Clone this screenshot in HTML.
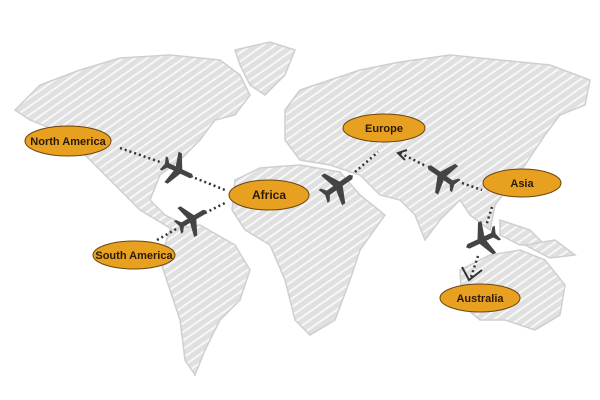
<!DOCTYPE html>
<html><head><style>
html,body{margin:0;padding:0;background:#fff;width:600px;height:400px;overflow:hidden}
svg text{font-family:"Liberation Sans",sans-serif;font-weight:bold;font-size:11px;fill:#2a1a0a}
</style></head><body>
<svg width="600" height="400" viewBox="0 0 600 400">
<defs>
<pattern id="h" width="7" height="7" patternUnits="userSpaceOnUse" patternTransform="rotate(-35)">
<rect width="7" height="7" fill="#e0e0e0"/><line x1="0" y1="6" x2="7" y2="6" stroke="#f7f7f7" stroke-width="2"/>
</pattern>
<g id="p"><path d="M0,-14 L2,-12 L2,-3 L14,3 L14,6 L2,3 L2,9 L6,12 L6,14 L0,12 L-6,14 L-6,12 L-2,9 L-2,3 L-14,6 L-14,3 L-2,-3 L-2,-12 Z" fill="#444"/></g>
</defs>
<g fill="url(#h)" stroke="#cfcfcf" stroke-width="1.5">
<path d="M15,110 L40,85 L80,70 L120,58 L170,55 L220,60 L240,75 L250,95 L235,115 L215,120 L200,140 L180,160 L160,175 L150,200 L165,215 L185,225 L200,240 L185,238 L165,225 L140,210 L120,190 L100,170 L80,150 L55,130 L30,120 Z"/>
<path d="M235,50 L270,42 L295,50 L285,75 L265,95 L250,85 L240,65 Z"/>
<path d="M170,230 L200,225 L235,245 L250,270 L240,300 L220,320 L205,350 L195,375 L185,360 L180,320 L170,290 L160,260 Z"/>
<path d="M285,110 L300,90 L330,80 L360,70 L400,62 L450,55 L500,60 L550,65 L590,80 L585,105 L560,115 L545,135 L525,165 L510,185 L495,205 L490,230 L470,215 L460,200 L440,220 L425,240 L415,215 L400,200 L380,195 L360,175 L330,165 L300,160 L285,140 Z"/>
<path d="M235,180 L260,168 L300,165 L340,172 L360,195 L385,215 L360,250 L350,280 L335,320 L310,335 L295,320 L285,280 L270,245 L245,230 L232,210 Z"/>
<path d="M500,220 L530,230 L545,245 L520,245 L500,235 Z"/>
<path d="M525,245 L555,240 L575,255 L550,258 Z"/>
<path d="M460,270 L490,255 L520,250 L545,260 L565,285 L560,315 L535,330 L505,320 L480,320 L462,305 Z"/>
</g>
<g stroke="#333" stroke-width="2.5" stroke-dasharray="2,3" fill="none">
<line x1="120" y1="148" x2="160" y2="162"/>
<line x1="195" y1="178" x2="225" y2="190"/>
<line x1="157" y1="240" x2="178" y2="228"/>
<line x1="205" y1="213" x2="225" y2="203"/>
<line x1="355" y1="172" x2="378" y2="152"/>
<line x1="400" y1="153" x2="426" y2="166"/>
<line x1="462" y1="183" x2="482" y2="190"/>
<line x1="492" y1="207" x2="486" y2="226"/>
<line x1="478" y1="256" x2="470" y2="280"/>
</g>
<path d="M407,150 L398,153 L405,160" stroke="#333" stroke-width="2" fill="none"/>
<path d="M462,267 L469,280 L482,270" stroke="#333" stroke-width="2" fill="none"/>
<use href="#p" transform="translate(178,170) rotate(115) scale(1.2)"/>
<use href="#p" transform="translate(192,219) rotate(60) scale(1.2)"/>
<use href="#p" transform="translate(338,186) rotate(55) scale(1.3)"/>
<use href="#p" transform="translate(442,176) rotate(-55) scale(1.25)"/>
<use href="#p" transform="translate(482,240) rotate(-115) scale(1.25)"/>
<g fill="#e8a020" stroke="#6a4510" stroke-width="1">
<ellipse cx="68" cy="141" rx="43" ry="15"/>
<ellipse cx="134" cy="255" rx="41" ry="14"/>
<ellipse cx="269" cy="195" rx="40" ry="15"/>
<ellipse cx="384" cy="128" rx="41" ry="14"/>
<ellipse cx="522" cy="183" rx="39" ry="14"/>
<ellipse cx="480" cy="298" rx="40" ry="14"/>
</g>
<g text-anchor="middle">
<text x="68" y="145">North America</text>
<text x="134" y="259">South America</text>
<text x="269" y="199" style="font-size:12px">Africa</text>
<text x="384" y="132">Europe</text>
<text x="522" y="187">Asia</text>
<text x="480" y="302">Australia</text>
</g>
</svg>
</body></html>
